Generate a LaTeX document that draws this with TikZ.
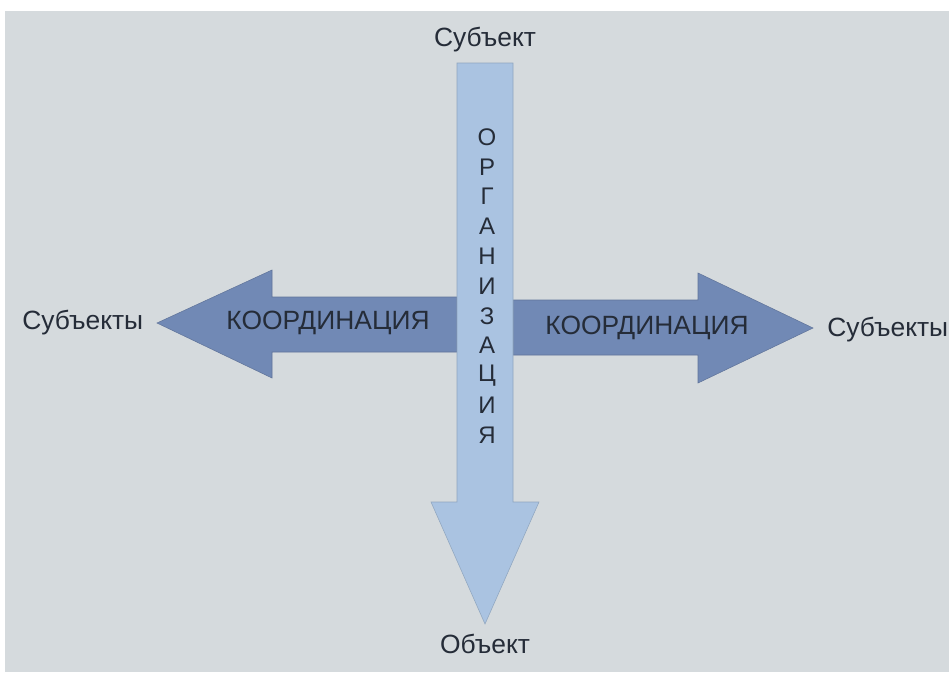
\documentclass[tikz,border=0pt]{standalone}
\usepackage{fontspec}
\setmainfont{Liberation Sans}
\definecolor{bggray}{HTML}{D5DADD}
\definecolor{darkarrow}{HTML}{7189B5}
\definecolor{lightarrow}{HTML}{AAC3E1}
\definecolor{inktext}{HTML}{252C38}
\begin{document}
\begin{tikzpicture}
      [%%%%%%%%%%%%%%%%%%%%%%%%%%%%%%
          x=0.75pt, y=-0.75pt,
          label/.style={text=inktext, font=\fontsize{19.8}{22}\selectfont, inner sep=0pt},
          letter/.style={text=inktext, font=\fontsize{18}{20}\selectfont, inner sep=0pt},
          harrow/.style={fill=darkarrow, draw=darkarrow!85!black, line width=0.4pt},
          varrow/.style={fill=lightarrow, draw=lightarrow!85!black, line width=0.4pt}
      ]%%%%%%%%%%%%%%%%%%%%%%%%%%%%%%

  \useasboundingbox (0,0) rectangle (949,672);
  \fill[white] (0,0) rectangle (949,672);
  \fill[bggray] (5,11) rectangle (949,672);

  % horizontal arrows
  \draw[harrow] (457,297) -- (272,297) -- (272,270) -- (157,323)
        -- (272,378) -- (272,352) -- (457,352) -- cycle;
  \draw[harrow] (513,300) -- (698,300) -- (698,273) -- (813,328)
        -- (698,383) -- (698,355) -- (513,355) -- cycle;

  % vertical arrow
  \draw[varrow] (457,63) -- (513,63) -- (513,502) -- (539,502)
        -- (485,624) -- (431,502) -- (457,502) -- cycle;

  \node[label] (koordL) at (328,323) {КООРДИНАЦИЯ};
  \node[label] (koordR) at (647,328) {КООРДИНАЦИЯ};

  \foreach \l [count=\i] in {О,Р,Г,А,Н,И,З,А,Ц,И,Я}
      \node[letter] (org\i) at (487,{137+29.8*(\i-1)}) {\l};

  \node[label] (subjTop) at (485,40) {Субъект};
  \node[label] (obj) at (485,644) {Объект};
  \node[label, anchor=west] (subjL) at (22,323) {Субъекты};
  \node[label, anchor=west] (subjR) at (827,330) {Субъекты};

  \end{tikzpicture}
\end{document}
